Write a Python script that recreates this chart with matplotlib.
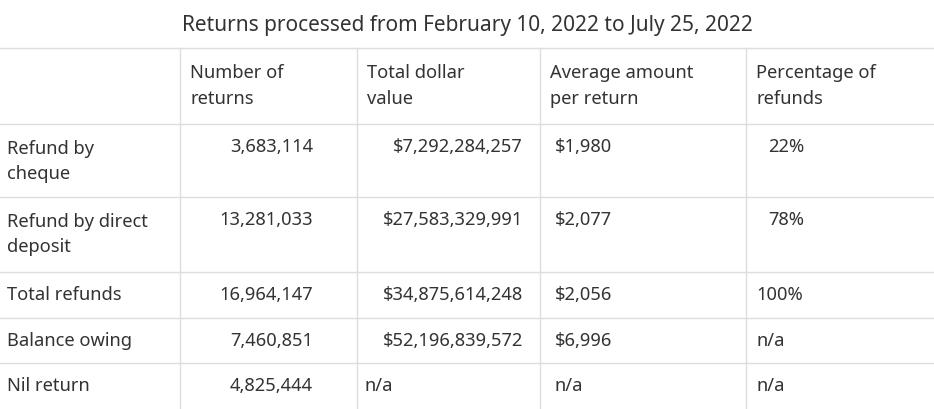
import matplotlib.pyplot as plt

title = "Returns processed from February 10, 2022 to July 25, 2022"
headers = ["Number of\nreturns", "Total dollar\nvalue", "Average amount\nper return", "Percentage of\nrefunds"]
row_labels = ["Refund by\ncheque", "Refund by direct\ndeposit", "Total refunds", "Balance owing", "Nil return"]
num_returns = ["3,683,114", "13,281,033", "16,964,147", "7,460,851", "4,825,444"]
dollar_value = ["$7,292,284,257", "$27,583,329,991", "$34,875,614,248", "$52,196,839,572", "n/a"]
avg_amount = ["$1,980", "$2,077", "$2,056", "$6,996", "n/a"]
pct_refunds = ["22%", "78%", "100%", "n/a", "n/a"]
bold_rows = [2]

plt.rcParams['font.family'] = ['Noto Sans', 'DejaVu Sans']
fig = plt.figure(figsize=(9.34, 4.10), dpi=100)
ax = fig.add_axes([0, 0, 1, 1])
ax.set_xlim(0, 934)
ax.set_ylim(410, 0)
ax.axis('off')

col = '#333333'
fs = 13.2
ls = 1.55
ax.text(467, 25, title, ha='center', va='center', fontsize=15, fontweight='bold', color=col)

hlines = [49, 125, 198, 273, 319, 364]
vlines = [180, 357, 540, 746]
for y in hlines:
    ax.plot([0, 934], [y, y], color='#dddddd', lw=1)
for x in vlines:
    ax.plot([x, x], [49, 410], color='#dddddd', lw=1)

hx = [190, 367, 550, 756]
for x, h in zip(hx, headers):
    ax.text(x, 86, h, ha='left', va='center', fontsize=fs, fontweight='bold',
            color=col, linespacing=ls)

row_top = [125, 198, 273, 319, 364]
for i, lab in enumerate(row_labels):
    yt = row_top[i] + 22
    w = 'bold' if i in bold_rows else 'normal'
    ly = yt + 14.5 if '\n' in lab else yt
    ax.text(7, ly, lab, ha='left', va='center', fontsize=fs, fontweight=w,
            color=col, linespacing=ls)
    ax.text(313, yt, num_returns[i], ha='right', va='center', fontsize=fs, color=col)
    dv = dollar_value[i]
    if dv == 'n/a':
        ax.text(365, yt, dv, ha='left', va='center', fontsize=fs, color=col)
    else:
        ax.text(523, yt, dv, ha='right', va='center', fontsize=fs, fontweight=w, color=col)
    ax.text(555, yt, avg_amount[i], ha='left', va='center', fontsize=fs, fontweight=w, color=col)
    px = 768 if i < 2 else 756
    ax.text(px, yt, pct_refunds[i], ha='left', va='center', fontsize=fs, color=col)

fig.savefig('out.png', dpi=100)
